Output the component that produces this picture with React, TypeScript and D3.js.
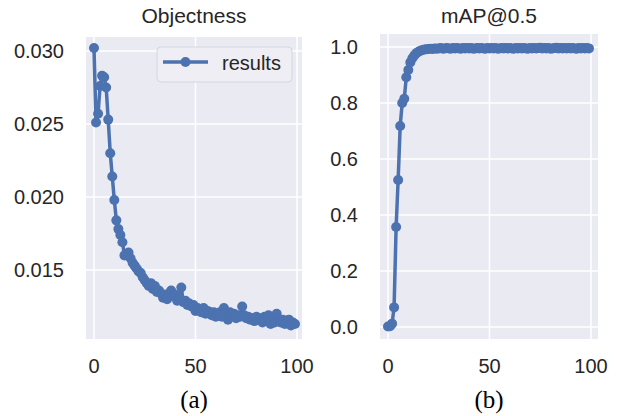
import * as d3 from "d3";

// epochs 0..99
const epochs = d3.range(0, 100);

const objectness = [
  0.0302, 0.0251, 0.0257, 0.0276, 0.0283, 0.0282, 0.0275, 0.0253, 0.023, 0.0214,
  0.0198, 0.0184, 0.0178, 0.0174, 0.0169, 0.016, 0.0161, 0.0162, 0.0158, 0.0155,
  0.0153, 0.0151, 0.0149, 0.0148, 0.0145, 0.0143, 0.0141, 0.0139, 0.0141, 0.0137,
  0.0139, 0.0135, 0.0136, 0.0134, 0.0131, 0.0133, 0.013, 0.0134, 0.0136, 0.0132,
  0.0133, 0.0129, 0.0131, 0.0138, 0.0128, 0.0129, 0.0126, 0.0127, 0.0125, 0.0126,
  0.0122, 0.0124, 0.0122, 0.0121, 0.0124, 0.012, 0.0122, 0.0121, 0.0119, 0.0121,
  0.0118, 0.012, 0.0121, 0.0118, 0.0124, 0.012, 0.0116, 0.0121, 0.0119, 0.012,
  0.0117, 0.0119, 0.0118, 0.0125, 0.0119, 0.0117, 0.0118, 0.0116, 0.0117, 0.0115,
  0.0118, 0.0116, 0.0117, 0.0114, 0.0118, 0.0115, 0.0119, 0.0113, 0.0117, 0.0114,
  0.012, 0.0115, 0.0114, 0.0116, 0.0113, 0.0115, 0.0116, 0.0112, 0.0114, 0.0113,
];

const mAP = [
  0.002, 0.003, 0.012, 0.07, 0.357, 0.525, 0.718, 0.8, 0.815, 0.892,
  0.918, 0.945, 0.96, 0.97, 0.978, 0.983, 0.987, 0.989, 0.991, 0.992,
  0.993, 0.994, 0.993, 0.995, 0.994, 0.995, 0.996, 0.994, 0.995, 0.996,
  0.995, 0.994, 0.996, 0.995, 0.996, 0.995, 0.994, 0.996, 0.995, 0.996,
  0.995, 0.996, 0.994, 0.995, 0.996, 0.995, 0.996, 0.995, 0.994, 0.996,
  0.995, 0.996, 0.995, 0.996, 0.994, 0.995, 0.996, 0.995, 0.996, 0.995,
  0.996, 0.995, 0.994, 0.996, 0.995, 0.996, 0.995, 0.996, 0.995, 0.994,
  0.996, 0.995, 0.996, 0.995, 0.996, 0.997, 0.995, 0.996, 0.995, 0.996,
  0.994, 0.995, 0.996, 0.997, 0.995, 0.996, 0.995, 0.996, 0.995, 0.996,
  0.995, 0.996, 0.995, 0.994, 0.996, 0.995, 0.996, 0.995, 0.996, 0.995,
];

const xTicks = [0, 50, 100];
const objTicks = [0.015, 0.02, 0.025, 0.03];
const mapTicks = [0, 0.2, 0.4, 0.6, 0.8, 1.0];

const W = 618;
const H = 416;
const blue = "#4c72b0";
const bg = "#eaeaf2";
const textColor = "#262626";
const sans = "Liberation Sans, Arial, sans-serif";

type PanelProps = {
  title: string;
  values: number[];
  yTicks: number[];
  fmt: (v: number) => string;
  x: d3.ScaleLinear<number, number>;
  y: d3.ScaleLinear<number, number>;
  box: { left: number; right: number; top: number; bottom: number };
  caption: string;
  legend?: boolean;
};

const Panel = ({ title, values, yTicks, fmt, x, y, box, caption, legend }: PanelProps) => {
  const line = d3
    .line<number>()
    .x((_, i) => x(epochs[i]))
    .y((d) => y(d));
  const cx = (box.left + box.right) / 2;
  return (
    <g>
      <rect x={box.left} y={box.top} width={box.right - box.left} height={box.bottom - box.top} fill={bg} />
      {xTicks.map((t) => (
        <line key={"gx" + t} x1={x(t)} x2={x(t)} y1={box.top} y2={box.bottom} stroke="#fff" strokeWidth={1.5} />
      ))}
      {yTicks.map((t) => (
        <line key={"gy" + t} x1={box.left} x2={box.right} y1={y(t)} y2={y(t)} stroke="#fff" strokeWidth={1.5} />
      ))}
      <path d={line(values) ?? ""} fill="none" stroke={blue} strokeWidth={3.5} strokeLinejoin="round" />
      {values.map((v, i) => (
        <circle key={i} cx={x(epochs[i])} cy={y(v)} r={5} fill={blue} />
      ))}
      {xTicks.map((t) => (
        <text key={"tx" + t} x={x(t)} y={box.bottom + 34} textAnchor="middle" fontFamily={sans} fontSize={20} fill={textColor}>
          {t}
        </text>
      ))}
      {yTicks.map((t) => (
        <text key={"ty" + t} x={box.left - 22} y={y(t) + 7} textAnchor="end" fontFamily={sans} fontSize={20} fill={textColor}>
          {fmt(t)}
        </text>
      ))}
      <text x={cx} y={23} textAnchor="middle" fontFamily={sans} fontSize={21} fill={textColor}>
        {title}
      </text>
      <text x={cx} y={408} textAnchor="middle" fontFamily="Liberation Serif, Times New Roman, serif" fontSize={25} fill="#000">
        {caption}
      </text>
      {legend && (
        <g>
          <rect x={157} y={47} width={135} height={35} rx={4} fill="#eeeef4" stroke="#d6d6de" strokeWidth={1} />
          <line x1={163} x2={208} y1={62} y2={62} stroke={blue} strokeWidth={3.5} />
          <circle cx={185.5} cy={62} r={5} fill={blue} />
          <text x={222} y={70} fontFamily={sans} fontSize={20} fill={textColor}>
            results
          </text>
        </g>
      )}
    </g>
  );
};

export default function App() {
  const xLeft = d3.scaleLinear().domain([0, 100]).range([94, 297]);
  const yLeft = d3.scaleLinear().domain([0.015, 0.03]).range([270, 51]);
  const xRight = d3.scaleLinear().domain([0, 100]).range([388, 591]);
  const yRight = d3.scaleLinear().domain([0, 1]).range([327, 47]);

  return (
    <svg width={W} height={H} style={{ position: "absolute", left: 0, top: 0, background: "#fff" }}>
      <Panel
        title="Objectness"
        values={objectness}
        yTicks={objTicks}
        fmt={d3.format(".3f")}
        x={xLeft}
        y={yLeft}
        box={{ left: 86, right: 302, top: 37, bottom: 339 }}
        caption="(a)"
        legend
      />
      <Panel
        title="mAP@0.5"
        values={mAP}
        yTicks={mapTicks}
        fmt={d3.format(".1f")}
        x={xRight}
        y={yRight}
        box={{ left: 380, right: 598, top: 34, bottom: 339 }}
        caption="(b)"
      />
    </svg>
  );
}
